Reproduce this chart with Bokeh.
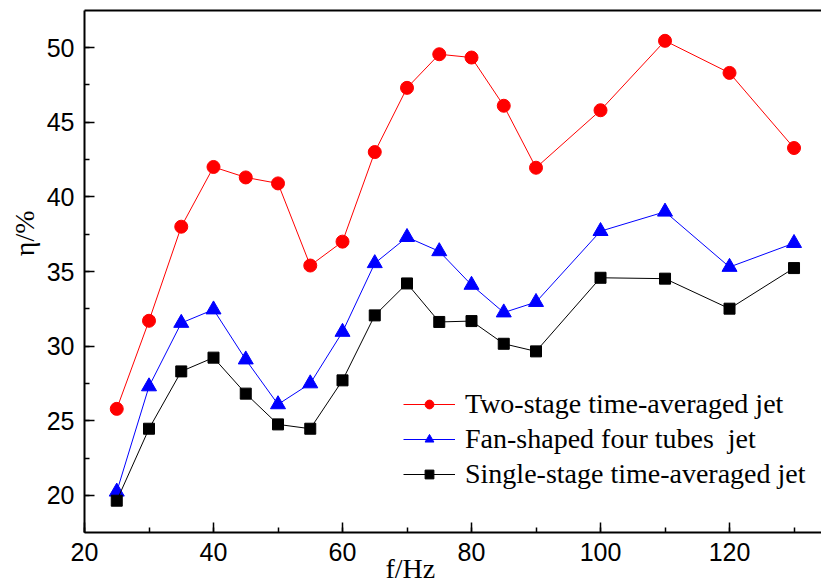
from bokeh.plotting import figure
from bokeh.models import (Range1d, LinearAxis, SingleIntervalTicker, FixedTicker,
                          Legend, LegendItem, Title)
from bokeh.embed import file_html
from bokeh.resources import INLINE

freq = [25, 30, 35, 40, 45, 50, 55, 60, 65, 70, 75, 80, 85, 90, 100, 110, 120, 130]
two_stage = [25.8, 31.7, 38.0, 42.0, 41.3, 40.9, 35.4, 37.0, 43.0, 47.3, 49.55,
             49.33, 46.1, 41.95, 45.8, 50.45, 48.3, 43.27]
fan_four = [20.25, 27.3, 31.55, 32.45, 29.1, 26.1, 27.5, 30.95, 35.55, 37.3, 36.35,
            34.1, 32.25, 32.95, 37.7, 39.0, 35.3, 36.9]
single_stage = [19.65, 24.47, 28.31, 29.23, 26.82, 24.76, 24.47, 27.71, 32.06, 34.2,
                31.62, 31.68, 30.16, 29.65, 34.58, 34.52, 32.51, 35.23]

names = ["Two-stage time-averaged jet", "Fan-shaped four tubes  jet",
         "Single-stage time-averaged jet"]

p = figure(width=821, height=586, output_backend="svg", toolbar_location=None,
           x_range=Range1d(20, 134.26), y_range=Range1d(17.52, 52.48),
           min_border_left=84, min_border_right=0, min_border_top=10,
           min_border_bottom=54)
p.grid.visible = False
p.outline_line_color = None

for ax in (p.xaxis[0], p.yaxis[0]):
    ax.axis_line_width = 2
    ax.major_tick_in = 10
    ax.major_tick_out = 0
    ax.minor_tick_in = 5
    ax.minor_tick_out = 0
    ax.major_tick_line_width = 1.5
    ax.minor_tick_line_width = 1.5
    ax.major_label_text_font = "Liberation Sans"
    ax.major_label_text_font_size = "25px"
    ax.major_label_text_color = "black"
    ax.major_label_standoff = 10

p.xaxis[0].ticker = SingleIntervalTicker(interval=20, num_minor_ticks=2)
p.yaxis[0].ticker = SingleIntervalTicker(interval=5, num_minor_ticks=2)

top = LinearAxis(ticker=FixedTicker(ticks=[]), axis_line_width=2,
                 major_tick_line_color=None, minor_tick_line_color=None,
                 major_label_standoff=0, major_tick_in=0, major_tick_out=0,
                 minor_tick_in=0, minor_tick_out=0)
p.add_layout(top, "above")

r1l = p.line(freq, two_stage, line_color="red", line_width=1)
r1m = p.scatter(freq, two_stage, marker="circle", size=13, fill_color="red", line_color="red")
r2l = p.line(freq, fan_four, line_color="blue", line_width=1)
r2m = p.scatter(freq, fan_four, marker="triangle", size=15, fill_color="blue", line_color="blue")
r3l = p.line(freq, single_stage, line_color="black", line_width=1)
r3m = p.scatter(freq, single_stage, marker="square", size=11, fill_color="black", line_color="black")

legend = Legend(items=[LegendItem(label=names[0], renderers=[r1l, r1m]),
                       LegendItem(label=names[1], renderers=[r2l, r2m]),
                       LegendItem(label=names[2], renderers=[r3l, r3m])],
                location=(319, 42), glyph_width=52, glyph_height=22,
                label_height=30, spacing=3, padding=0, margin=0,
                label_standoff=10, label_text_font="Liberation Serif",
                label_text_font_size="28px", label_text_color="black",
                border_line_color=None, background_fill_alpha=0)
p.add_layout(legend, "center")

xt = Title(text="f/Hz", align="left", offset=301, standoff=-22,
           vertical_align="top",
           text_font="Liberation Serif", text_font_size="28px",
           text_font_style="normal", text_color="black")
p.add_layout(xt, "below")
yt = Title(text="η/%", align="right", offset=200, standoff=8,
           text_font="Liberation Serif", text_font_size="28px",
           text_font_style="normal", text_color="black")
p.add_layout(yt, "left")

open("out.html", "w").write(file_html(p, INLINE))
